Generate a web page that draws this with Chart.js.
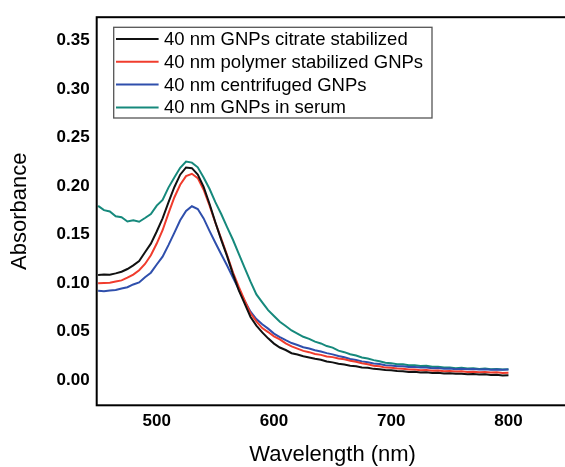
<!DOCTYPE html>
<html>
<head>
<meta charset="utf-8">
<script src="https://cdn.jsdelivr.net/npm/chart.js@4/dist/chart.umd.min.js"></script>
<style>
html,body{margin:0;padding:0;background:#fff;overflow:hidden;}
#wrap{position:relative;width:572px;height:467px;}
</style>
</head>
<body>
<div id="wrap"><canvas id="c" width="572" height="467"></canvas></div>
<script>
const wavelengths = [450,455,460,465,470,475,480,485,490,495,500,505,510,515,520,525,530,535,540,545,550,555,560,565,570,575,580,585,590,595,600,605,610,615,620,625,630,635,640,645,650,655,660,665,670,675,680,685,690,695,700,705,710,715,720,725,730,735,740,745,750,755,760,765,770,775,780,785,790,795,800];

const citrate = [0.1085,0.1089,0.1086,0.1101,0.1118,0.1146,0.1183,0.1228,0.1318,0.1407,0.1532,0.1668,0.1832,0.1988,0.2117,0.2191,0.2184,0.2118,0.1992,0.1818,0.1628,0.1446,0.1279,0.1094,0.0926,0.0789,0.0652,0.0563,0.0493,0.0432,0.0378,0.0338,0.0312,0.0279,0.0266,0.0248,0.0236,0.0222,0.0212,0.0194,0.0185,0.0170,0.0163,0.0151,0.0145,0.0133,0.0129,0.0118,0.0114,0.0106,0.0103,0.0095,0.0094,0.0087,0.0088,0.0081,0.0082,0.0076,0.0078,0.0071,0.0073,0.0068,0.0069,0.0063,0.0065,0.0059,0.0062,0.0055,0.0057,0.0051,0.0053];

const polymer = [0.0999,0.1003,0.1004,0.1017,0.1029,0.1057,0.1088,0.1133,0.1198,0.1288,0.1408,0.1545,0.1718,0.1882,0.2013,0.2102,0.2126,0.2081,0.1962,0.1801,0.1622,0.1458,0.1289,0.1112,0.0961,0.0824,0.0690,0.0607,0.0538,0.0497,0.0453,0.0422,0.0380,0.0349,0.0327,0.0303,0.0290,0.0271,0.0262,0.0246,0.0239,0.0224,0.0216,0.0201,0.0192,0.0176,0.0166,0.0150,0.0144,0.0131,0.0129,0.0121,0.0119,0.0111,0.0112,0.0104,0.0106,0.0099,0.0102,0.0094,0.0096,0.0090,0.0093,0.0086,0.0089,0.0083,0.0086,0.0080,0.0082,0.0076,0.0079];

const centrifuged = [0.0922,0.0918,0.0925,0.0929,0.0946,0.0958,0.0987,0.1008,0.1062,0.1108,0.1192,0.1273,0.1392,0.1518,0.1647,0.1743,0.1792,0.1763,0.1667,0.1538,0.1416,0.1298,0.1182,0.1057,0.0937,0.0818,0.0706,0.0631,0.0578,0.0532,0.0481,0.0446,0.0413,0.0384,0.0363,0.0341,0.0328,0.0309,0.0296,0.0280,0.0267,0.0251,0.0238,0.0219,0.0209,0.0195,0.0186,0.0173,0.0167,0.0156,0.0153,0.0146,0.0145,0.0138,0.0137,0.0131,0.0131,0.0125,0.0126,0.0119,0.0121,0.0115,0.0118,0.0113,0.0116,0.0111,0.0114,0.0109,0.0112,0.0108,0.0111];

const serum = [0.1796,0.1752,0.1738,0.1688,0.1679,0.1635,0.1648,0.1632,0.1671,0.1712,0.1798,0.1858,0.1984,0.2089,0.2188,0.2252,0.2241,0.2193,0.2088,0.1972,0.1834,0.1712,0.1578,0.1447,0.1302,0.1158,0.1016,0.0884,0.0802,0.0723,0.0662,0.0603,0.0559,0.0513,0.0482,0.0448,0.0427,0.0398,0.0380,0.0353,0.0337,0.0306,0.0290,0.0268,0.0256,0.0236,0.0225,0.0208,0.0197,0.0181,0.0177,0.0166,0.0165,0.0156,0.0156,0.0148,0.0149,0.0140,0.0141,0.0131,0.0133,0.0125,0.0129,0.0121,0.0125,0.0117,0.0121,0.0114,0.0117,0.0111,0.0115];

const seriesLabels = ["40 nm GNPs citrate stabilized","40 nm polymer stabilized GNPs","40 nm centrifuged GNPs","40 nm GNPs in serum"];
const seriesColors = ["#111111","#f03c2d","#2f4fac","#16897c"];
const xTicks = [500,600,700,800];
const yTicks = [0.00,0.05,0.10,0.15,0.20,0.25,0.30,0.35];

const FONT = "'Liberation Sans', Arial, Helvetica, sans-serif";
const allSeries = [citrate, polymer, centrifuged, serum];

const datasets = allSeries.map((vals, i) => ({
  label: seriesLabels[i],
  data: wavelengths.map((w, j) => ({x: w, y: vals[j]})),
  borderColor: seriesColors[i],
  backgroundColor: seriesColors[i],
  borderWidth: 2,
  pointRadius: 0,
  tension: 0,
  fill: false
}));

const framePlugin = {
  id: 'frame',
  afterDatasetsDraw(chart) {
    const {ctx, chartArea: a} = chart;
    ctx.save();
    ctx.strokeStyle = '#000';
    ctx.lineWidth = 2;
    ctx.strokeRect(a.left, a.top, a.right - a.left, a.bottom - a.top);
    // legend box
    const bx = 113.7, by = 27.3, bw = 318.3, bh = 90.7;
    ctx.fillStyle = '#fff';
    ctx.fillRect(bx, by, bw, bh);
    ctx.strokeStyle = '#555';
    ctx.lineWidth = 1.3;
    ctx.strokeRect(bx, by, bw, bh);
    ctx.font = "18.5px " + FONT;
    ctx.textBaseline = 'middle';
    ctx.textAlign = 'left';
    chart.data.datasets.forEach((ds, i) => {
      const yy = 39 + i * 22.8;
      ctx.strokeStyle = ds.borderColor;
      ctx.lineWidth = 2;
      ctx.beginPath();
      ctx.moveTo(116, yy);
      ctx.lineTo(158.6, yy);
      ctx.stroke();
      ctx.fillStyle = '#000';
      ctx.fillText(ds.label, 164, yy + 1);
    });
    ctx.restore();
  }
};

new Chart(document.getElementById('c'), {
  type: 'line',
  data: { datasets },
  plugins: [framePlugin],
  options: {
    responsive: false,
    animation: false,
    layout: { padding: { top: 12.3, right: 3.5, left: 0, bottom: 0 } },
    plugins: { legend: { display: false }, tooltip: { enabled: false } },
    scales: {
      x: {
        type: 'linear',
        min: 448.8,
        max: 851.2,
        grid: { display: false, drawTicks: false },
        border: { display: false },
        afterBuildTicks: s => { s.ticks = xTicks.map(v => ({value: v})); },
        afterFit: s => { s.height = 61.7; },
        ticks: {
          padding: 6,
          color: '#000',
          font: { family: FONT, size: 17, weight: 'bold' },
          callback: v => String(v)
        },
        title: {
          display: true,
          text: 'Wavelength (nm)',
          color: '#000',
          font: { family: FONT, size: 22, lineHeight: 1 },
          padding: { top: 0, bottom: 1 }
        }
      },
      y: {
        type: 'linear',
        min: -0.0257,
        max: 0.3738,
        grid: { display: false, drawTicks: false },
        border: { display: false },
        afterBuildTicks: s => { s.ticks = yTicks.map(v => ({value: v})); },
        afterFit: s => { s.width = 96.7; },
        ticks: {
          padding: 7,
          color: '#000',
          font: { family: FONT, size: 17, weight: 'bold' },
          callback: v => Number(v).toFixed(2)
        },
        title: {
          display: true,
          text: 'Absorbance',
          color: '#000',
          font: { family: FONT, size: 22, lineHeight: 1 },
          padding: { top: 9, bottom: 0 }
        }
      }
    }
  }
});
</script>
</body>
</html>
